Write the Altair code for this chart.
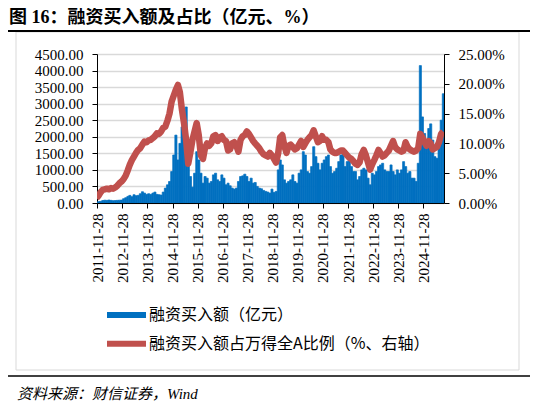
import altair as alt
import pandas as pd

TITLE = "图 16：融资买入额及占比（亿元、%）"
SOURCE = "资料来源：财信证券，Wind"
S1 = "融资买入额（亿元）"
S2 = "融资买入额占万得全A比例（%、右轴）"

FIRST_MONTH = "2011-11"
LAST_MONTH = "2025-09"
TICK_YEARS = list(range(2011, 2025))   # labels "YYYY-11-28"

# 融资买入额（亿元）, monthly
buy_2011 = [20, 40]
buy_2012 = [50, 75, 85, 80, 90, 80, 70, 75, 80, 85, 90, 130]
buy_2013 = [160, 200, 230, 190, 250, 220, 230, 280, 340, 300, 260, 280]
buy_2014 = [260, 300, 330, 260, 250, 240, 330, 450, 550, 650, 950, 1450]
buy_2015 = [2050, 1300, 1800, 2300, 2500, 2900, 1700, 800, 480, 900, 1550, 1300]
buy_2016 = [900, 600, 800, 750, 600, 650, 850, 900, 700, 650, 850, 750]
buy_2017 = [550, 600, 520, 450, 420, 450, 650, 800, 820, 870, 800, 650]
buy_2018 = [750, 600, 620, 500, 450, 430, 380, 350, 330, 300, 420, 320]
buy_2019 = [350, 1000, 1300, 1150, 700, 600, 650, 700, 850, 650, 600, 900]
buy_2020 = [1000, 1550, 1450, 950, 900, 1100, 1700, 1400, 1200, 1000, 1200, 1300]
buy_2021 = [1400, 1450, 1100, 900, 950, 1050, 1250, 1450, 1500, 1100, 1250, 1300]
buy_2022 = [1100, 950, 950, 700, 800, 1000, 1050, 1000, 750, 550, 900, 850]
buy_2023 = [950, 1100, 1150, 1200, 1000, 950, 950, 1150, 950, 850, 1000, 900]
buy_2024 = [1000, 1250, 1100, 900, 950, 750, 750, 650, 1200, 4150, 2600, 2100]
buy_2025 = [1800, 2250, 2390, 1900, 1400, 1350, 1900, 2500, 3300]

# 融资买入额占万得全A比例（%）, monthly
pct_2011 = [0.8, 1.2]
pct_2012 = [1.8, 2.2, 2.3, 2.4, 2.3, 2.5, 2.4, 2.6, 2.9, 3.3, 3.6, 4.0]
pct_2013 = [4.6, 5.5, 6.4, 7.2, 7.8, 8.4, 8.9, 9.2, 9.8, 10.3, 10.2, 10.5]
pct_2014 = [10.6, 10.9, 11.2, 11.7, 11.6, 12.0, 12.6, 12.8, 13.8, 15.0, 17.0, 18.0]
pct_2015 = [19.0, 19.8, 18.6, 15.6, 13.4, 10.5, 6.6, 8.5, 10.6, 12.0, 13.4, 11.4]
pct_2016 = [8.0, 7.4, 9.2, 10.0, 9.6, 10.0, 11.2, 11.4, 10.4, 11.0, 11.2, 10.6]
pct_2017 = [10.4, 8.8, 9.0, 10.0, 10.2, 9.6, 8.6, 10.6, 11.2, 11.4, 12.0, 11.6]
pct_2018 = [11.0, 10.4, 10.0, 9.6, 9.2, 8.6, 8.2, 8.0, 7.8, 8.4, 8.0, 7.4]
pct_2019 = [6.8, 8.4, 11.0, 11.4, 9.6, 8.4, 9.6, 9.8, 9.4, 9.0, 9.2, 9.8]
pct_2020 = [10.4, 9.4, 10.0, 10.6, 11.0, 11.4, 12.2, 11.2, 10.2, 10.4, 11.2, 10.6]
pct_2021 = [10.6, 10.2, 9.0, 8.6, 8.4, 8.4, 8.6, 8.8, 8.8, 8.4, 8.0, 7.6]
pct_2022 = [7.4, 7.0, 6.6, 6.4, 6.8, 8.2, 8.9, 8.0, 6.8, 5.6, 6.5, 7.2]
pct_2023 = [8.0, 8.9, 8.4, 7.8, 8.0, 8.4, 8.8, 9.6, 10.4, 9.4, 9.0, 8.8]
pct_2024 = [8.6, 8.8, 10.2, 9.4, 9.0, 8.8, 8.6, 8.8, 9.2, 11.6, 11.0, 10.2]
pct_2025 = [9.6, 10.4, 10.0, 9.0, 9.2, 9.4, 10.2, 11.6, 12.0]

buy = (buy_2011 + buy_2012 + buy_2013 + buy_2014 + buy_2015 + buy_2016 + buy_2017
       + buy_2018 + buy_2019 + buy_2020 + buy_2021 + buy_2022 + buy_2023 + buy_2024 + buy_2025)
pct = (pct_2011 + pct_2012 + pct_2013 + pct_2014 + pct_2015 + pct_2016 + pct_2017
       + pct_2018 + pct_2019 + pct_2020 + pct_2021 + pct_2022 + pct_2023 + pct_2024 + pct_2025)

months = pd.period_range(FIRST_MONTH, LAST_MONTH, freq="M")
starts = [m.start_time.strftime("%Y-%m-%d") for m in months]
ends = [(m + 1).start_time.strftime("%Y-%m-%d") for m in months]
mids = [(m.start_time + pd.Timedelta(days=14)).strftime("%Y-%m-%d") for m in months]

df_bar = pd.DataFrame({"start": starts, "end": ends, "value": buy, "series": S1})
df_line = pd.DataFrame({"date": mids, "value": pct, "series": S2})
one = pd.DataFrame({"k": [0]})

SERIF = "Liberation Serif"
CJK = "Noto Sans CJK SC"
MIX = "Liberation Serif, Noto Sans CJK SC"
BLUE = "#0070C0"
RED = "#C0504D"
W, H = 347, 149

xscale = alt.Scale(
    type="utc", nice=False,
    domain=[alt.DateTime(year=2011, month=11, date=24, utc=True),
            alt.DateTime(year=2025, month=9, date=26, utc=True)])
xaxis = alt.Axis(
    values=[alt.DateTime(year=y, month=11, date=28, utc=True) for y in TICK_YEARS],
    format="%Y-%m-%d", labelAngle=270, labelFont=SERIF, labelFontSize=15,
    labelColor="black", tickColor="black", tickSize=5, domainColor="black",
    grid=False, title=None, labelPadding=5, labelOverlap=False, labelFlush=False)
color_scale = alt.Scale(domain=[S1, S2], range=[BLUE, RED])
legend = alt.Legend(
    title=None, orient="none", legendX=7, legendY=253, direction="vertical",
    symbolType="stroke", symbolSize=1521, symbolStrokeWidth=6,
    labelFont=CJK, labelFontSize=16, labelColor="black", labelLimit=500,
    labelOffset=0, rowPadding=12.7, clipHeight=16, padding=0)

left_axis = alt.Axis(
    values=list(range(0, 4501, 500)), format=".2f", orient="left",
    labelFont=SERIF, labelFontSize=15, labelColor="black", tickColor="black",
    tickSize=5, domainColor="black", grid=True, gridColor="#D9D9D9", gridWidth=1.5,
    title=None, labelPadding=9, labelFlush=False)
right_axis = alt.Axis(
    values=[0, 5, 10, 15, 20, 25], orient="right",
    labelExpr="format(datum.value, '.2f') + '%'",
    labelFont=SERIF, labelFontSize=15, labelColor="black", tickColor="black",
    tickSize=5, domainColor="black", grid=False, title=None, labelPadding=9,
    labelFlush=False)

bars = alt.Chart(df_bar).mark_bar(clip=True, stroke=BLUE, strokeWidth=0.7).encode(
    x=alt.X("start:T", scale=xscale, axis=xaxis),
    x2="end:T",
    y=alt.Y("value:Q", scale=alt.Scale(domain=[0, 4500], nice=False), axis=left_axis),
    y2=alt.datum(0),
    color=alt.Color("series:N", scale=color_scale, legend=legend),
)

line = alt.Chart(df_line).mark_line(clip=True, strokeWidth=6.5, strokeJoin="round").encode(
    x=alt.X("date:T", scale=xscale, axis=xaxis),
    y=alt.Y("value:Q", scale=alt.Scale(domain=[0, 25], nice=False), axis=right_axis),
    color=alt.Color("series:N", scale=color_scale, legend=legend),
)

frame = alt.Chart(one).mark_rect(fillOpacity=0, stroke="#D9D9D9", strokeWidth=1).encode(
    x=alt.value(-81), x2=alt.value(422), y=alt.value(-22), y2=alt.value(316))
top_rule = alt.Chart(one).mark_rule(color="black", strokeWidth=2).encode(
    x=alt.value(-89), x2=alt.value(433), y=alt.value(-23))
bottom_rule = alt.Chart(one).mark_rule(color="black", strokeWidth=1.5).encode(
    x=alt.value(-89), x2=alt.value(433), y=alt.value(322))
title = alt.Chart(one).mark_text(
    text=TITLE, font=MIX, fontSize=18, fontWeight="bold", align="left",
    baseline="middle", color="black").encode(x=alt.value(-88), y=alt.value(-36))
source = alt.Chart(one).mark_text(
    text=SOURCE, font=MIX, fontSize=15, fontStyle="italic", align="left",
    baseline="middle", color="black").encode(x=alt.value(-80), y=alt.value(340))

chart = alt.layer(frame, bars, line, top_rule, bottom_rule, title, source).resolve_scale(
    y="independent"
).properties(
    width=W, height=H,
    autosize=alt.AutoSizeParams(type="none"),
    padding={"left": 89, "top": 46, "right": 86, "bottom": 202},
).configure_view(stroke=None).configure(background="white")

chart.save("out.html", embed_options={"renderer": "svg", "actions": False})
